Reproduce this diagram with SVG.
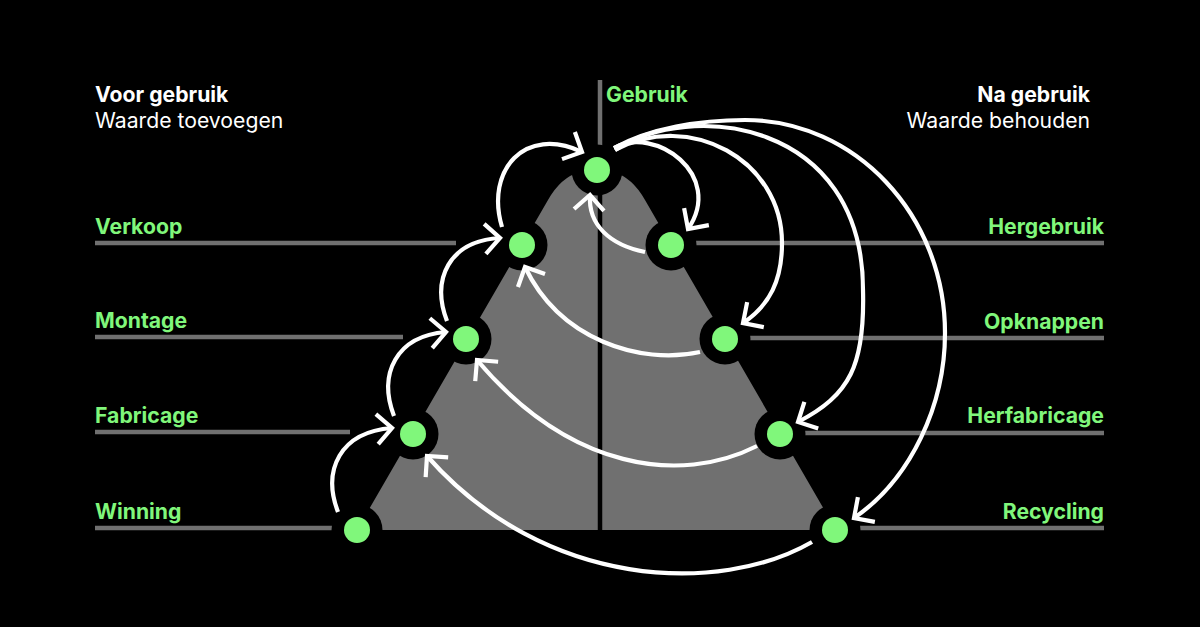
<svg xmlns="http://www.w3.org/2000/svg" width="1200" height="627" viewBox="0 0 1200 627">
<defs>
<style>
.t{font-family:Inter,"Liberation Sans",sans-serif;font-size:21.2px}
.b{font-weight:700}
.w{fill:#ffffff}
.g{fill:#80f77b}
.ln{stroke:#707070;stroke-width:4.5;fill:none}
.halo{fill:#000000}
.dot{fill:#80f77b}
.c{fill:none;stroke:#ffffff;stroke-width:4.2}
</style>
<marker id="ah" viewBox="0 0 40 40" refX="20" refY="20" markerWidth="40" markerHeight="40" markerUnits="userSpaceOnUse" orient="auto" overflow="visible">
<path d="M5,5 L20,20 L5,35" fill="none" stroke="#ffffff" stroke-width="4.2"/>
</marker>
</defs>
<rect x="0" y="0" width="1200" height="627" fill="#000000"/>
<path id="triangle" d="M357,530 L548,200 Q561,177 580,172 L613,172 Q632,177 645,200 L836,530 Z" fill="#707070"/>
<line x1="600" y1="170" x2="600" y2="530" stroke="#000000" stroke-width="4.5"/>
<line x1="600" y1="80" x2="600" y2="170" class="ln"/>
<text class="t b w" x="95" y="102">Voor gebruik</text>
<text class="t w" x="95" y="128">Waarde toevoegen</text>
<text class="t b w" x="1090" y="102" text-anchor="end">Na gebruik</text>
<text class="t w" x="1090" y="128" text-anchor="end">Waarde behouden</text>

<g id="gebruik">
<circle class="halo" cx="597" cy="170" r="25.5"/>
<circle class="dot" cx="597" cy="170" r="13"/>
<text class="t b g" x="606" y="102">Gebruik</text>
</g>
<g id="verkoop">
<line class="ln" x1="95" y1="243" x2="456" y2="243"/>
<circle class="halo" cx="522" cy="245" r="25.5"/>
<circle class="dot" cx="522" cy="245" r="13"/>
<text class="t b g" x="95" y="234">Verkoop</text>
</g>
<g id="montage">
<line class="ln" x1="95" y1="337" x2="403" y2="337"/>
<circle class="halo" cx="466" cy="339" r="25.5"/>
<circle class="dot" cx="466" cy="339" r="13"/>
<text class="t b g" x="95" y="328">Montage</text>
</g>
<g id="fabricage">
<line class="ln" x1="95" y1="432" x2="350" y2="432"/>
<circle class="halo" cx="413" cy="434" r="25.5"/>
<circle class="dot" cx="413" cy="434" r="13"/>
<text class="t b g" x="95" y="423">Fabricage</text>
</g>
<g id="winning">
<line class="ln" x1="95" y1="528" x2="357" y2="528"/>
<circle class="halo" cx="357" cy="530" r="25.5"/>
<circle class="dot" cx="357" cy="530" r="13"/>
<text class="t b g" x="95" y="519">Winning</text>
</g>
<g id="hergebruik">
<line class="ln" x1="671" y1="243" x2="1104" y2="243"/>
<circle class="halo" cx="671" cy="245" r="25.5"/>
<circle class="dot" cx="671" cy="245" r="13"/>
<text class="t b g" x="1104" y="234" text-anchor="end">Hergebruik</text>
</g>
<g id="opknappen">
<line class="ln" x1="725" y1="338" x2="1104" y2="338"/>
<circle class="halo" cx="725" cy="339" r="25.5"/>
<circle class="dot" cx="725" cy="339" r="13"/>
<text class="t b g" x="1104" y="329" text-anchor="end">Opknappen</text>
</g>
<g id="herfabricage">
<line class="ln" x1="780" y1="433" x2="1104" y2="433"/>
<circle class="halo" cx="780" cy="434" r="25.5"/>
<circle class="dot" cx="780" cy="434" r="13"/>
<text class="t b g" x="1104" y="423" text-anchor="end">Herfabricage</text>
</g>
<g id="recycling">
<line class="ln" x1="835" y1="528" x2="1104" y2="528"/>
<circle class="halo" cx="835" cy="530" r="25.5"/>
<circle class="dot" cx="835" cy="530" r="13"/>
<text class="t b g" x="1104" y="519" text-anchor="end">Recycling</text>
</g>

<g id="connectors">
<path class="c" marker-end="url(#ah)" d="M338,512 C322,470 340,432 392,428"/>
<path class="c" marker-end="url(#ah)" d="M394,416 C378,374 396,336 446,332"/>
<path class="c" marker-end="url(#ah)" d="M447,321 C431,279 449,241 500,238"/>
<path class="c" marker-end="url(#ah)" d="M502,227 C485,170 525,125 582,152"/>
<path class="c" marker-end="url(#ah)" d="M614,148 C655,125 725,175 688,229"/>
<path class="c" marker-end="url(#ah)" d="M645,252 C610,245 588,225 590,195"/>
<path class="c" marker-end="url(#ah)" d="M615,150 C690,110 782,160 782,243 C782,280 770,305 743,323"/>
<path class="c" marker-end="url(#ah)" d="M615,150 C690,100 863,120 863,290 C865,365 850,395 798,422"/>
<path class="c" marker-end="url(#ah)" d="M614,148 C650,128 700,120 745,120 C855,120 945,215 945,333 C945,405 911,479 854,518"/>
<path class="c" marker-end="url(#ah)" d="M700,352 C640,365 560,340 525,267"/>
<path class="c" marker-end="url(#ah)" d="M757,446 C680,485 570,470 477,360"/>
<path class="c" marker-end="url(#ah)" d="M812,542 C720,595 545,590 427,456"/>
</g>
</svg>
